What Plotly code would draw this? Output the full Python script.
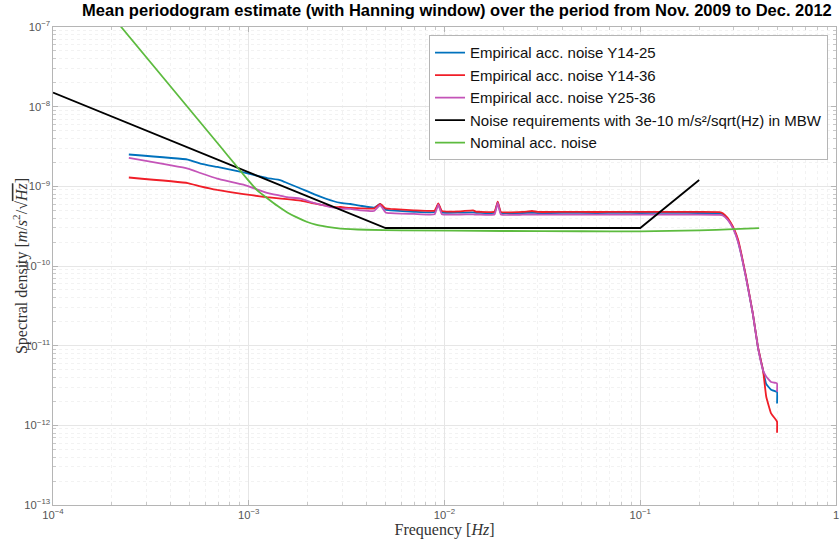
import plotly.graph_objects as go

# Frequencies shared by the three empirical curves (Hz)
freq_emp = [2.44e-4, 4.88e-4, 5.66e-4, 6.9e-4, 9.4e-4, 1.14e-3, 1.24e-3, 1.46e-3, 1.57e-3, 1.84e-3,
            2.15e-3, 2.72e-3, 2.95e-3, 3.3e-3, 3.73e-3, 4.36e-3, 4.69e-3, 5.0e-3, 5.3e-3, 7e-3,
            8.9e-3, 9.3e-3, 9.7e-3, 0.012, 0.014, 0.0145, 0.015, 0.018, 0.0187, 0.0194,
            0.025, 0.028, 0.03, 0.04, 0.06, 0.08, 0.1, 0.15, 0.2, 0.254,
            0.264, 0.28, 0.291, 0.303, 0.316, 0.328, 0.347, 0.376, 0.399, 0.424,
            0.44, 0.466, 0.495, 0.5, 0.5]

psd_y14_25 = [2.51e-9, 2.17e-9, 1.93e-9, 1.75e-9, 1.5e-9, 1.33e-9, 1.27e-9, 1.19e-9, 1.1e-9, 9.4e-10,
              8.0e-10, 6.5e-10, 6.2e-10, 6.0e-10, 5.7e-10, 5.4e-10, 6.0e-10, 5.1e-10, 5.0e-10, 4.8e-10,
              4.75e-10, 6.0e-10, 4.7e-10, 4.68e-10, 4.7e-10, 4.66e-10, 4.65e-10, 4.65e-10, 6.3e-10, 4.65e-10,
              4.63e-10, 4.66e-10, 4.62e-10, 4.64e-10, 4.63e-10, 4.65e-10, 4.63e-10, 4.64e-10, 4.63e-10, 4.6e-10,
              4.45e-10, 3.85e-10, 3.35e-10, 2.75e-10, 2.05e-10, 1.4e-10, 7.2e-11, 2.5e-11, 9.6e-12, 4.9e-12,
              3.3e-12, 2.8e-12, 2.65e-12, 2.63e-12, 1.88e-12]

psd_y14_36 = [1.29e-9, 1.1e-9, 1.0e-9, 9.0e-10, 8.0e-10, 7.5e-10, 7.3e-10, 7.0e-10, 6.9e-10, 6.6e-10,
              6.1e-10, 5.5e-10, 5.5e-10, 5.35e-10, 5.3e-10, 5.26e-10, 6.0e-10, 5.3e-10, 5.2e-10, 5.0e-10,
              4.95e-10, 6.1e-10, 4.9e-10, 4.85e-10, 5.0e-10, 4.8e-10, 4.8e-10, 4.8e-10, 6.4e-10, 4.78e-10,
              4.77e-10, 4.9e-10, 4.77e-10, 4.78e-10, 4.76e-10, 4.78e-10, 4.77e-10, 4.78e-10, 4.77e-10, 4.75e-10,
              4.6e-10, 4.0e-10, 3.45e-10, 2.85e-10, 2.15e-10, 1.45e-10, 7.4e-11, 2.55e-11, 9.7e-12, 4.9e-12,
              2.3e-12, 1.41e-12, 1.16e-12, 1.11e-12, 8.05e-13]

psd_y25_36 = [2.27e-9, 1.67e-9, 1.47e-9, 1.25e-9, 1.05e-9, 8.9e-10, 8.3e-10, 7.6e-10, 7.3e-10, 7.0e-10,
              6.2e-10, 5.4e-10, 5.26e-10, 5.2e-10, 5.0e-10, 4.9e-10, 5.8e-10, 4.7e-10, 4.6e-10, 4.5e-10,
              4.45e-10, 5.9e-10, 4.45e-10, 4.43e-10, 4.45e-10, 4.42e-10, 4.42e-10, 4.42e-10, 6.2e-10, 4.42e-10,
              4.41e-10, 4.43e-10, 4.42e-10, 4.41e-10, 4.42e-10, 4.41e-10, 4.42e-10, 4.41e-10, 4.42e-10, 4.38e-10,
              4.3e-10, 3.8e-10, 3.3e-10, 2.7e-10, 2.0e-10, 1.38e-10, 7.1e-11, 2.5e-11, 9.6e-12, 4.9e-12,
              4.1e-12, 3.5e-12, 3.4e-12, 3.36e-12, 2.63e-12]

# Noise requirement
freq_req = [1e-4, 5e-3, 0.1, 0.2]
psd_req = [1.5e-8, 3e-10, 3e-10, 1.2e-9]

# Nominal accelerometer noise
freq_nom = [2e-4, 2.23e-4, 7.3e-4, 8.4e-4, 1.0e-3, 1.105e-3, 1.243e-3, 1.4e-3, 1.574e-3,
            1.75e-3, 1.99e-3, 2.2e-3, 2.52e-3, 2.95e-3, 4e-3, 6e-3, 0.02, 0.05, 0.1,
            0.2, 0.3, 0.405]
psd_nom = [1.38e-7, 1e-7, 2.98e-9, 1.96e-9, 1.17e-9, 8.9e-10, 7.1e-10, 5.7e-10, 4.7e-10,
           4.1e-10, 3.57e-10, 3.3e-10, 3.1e-10, 2.95e-10, 2.85e-10, 2.8e-10, 2.75e-10, 2.73e-10, 2.72e-10,
           2.8e-10, 2.9e-10, 2.98e-10]

names = ["Empirical acc. noise Y14-25", "Empirical acc. noise Y14-36", "Empirical acc. noise Y25-36",
         "Noise requirements with 3e-10 m/s²/sqrt(Hz) in MBW", "Nominal acc. noise"]
colors = ["#0072BD", "#F01E28", "#C454B8", "#000000", "#5DBB3F"]
shapes = ["spline", "spline", "spline", "linear", "spline"]

series = [(freq_emp, psd_y14_25), (freq_emp, psd_y14_36), (freq_emp, psd_y25_36),
          (freq_req, psd_req), (freq_nom, psd_nom)]

fig = go.Figure()
for (fx, fy), nm, c, sh in zip(series, names, colors, shapes):
    fig.add_trace(go.Scatter(x=fx, y=fy, mode="lines", name=nm,
                             line=dict(color=c, width=1.8, shape=sh, smoothing=0.3)))

axis_common = dict(
    type="log", dtick=1, exponentformat="power", showline=True, mirror="ticks",
    linecolor="#b5b5b5", linewidth=1, ticks="inside", ticklen=5, tickcolor="#b5b5b5",
    showgrid=True, gridcolor="#e6e6e6", gridwidth=1, zeroline=False, automargin=False,
    tickfont=dict(family="Liberation Sans, Arial", size=9, color="#555555"),
    minor=dict(ticks="inside", ticklen=3, tickcolor="#c8c8c8", showgrid=True,
               gridcolor="#f2f2f2", griddash="dot"),
)

fig.update_xaxes(range=[-4, 0], **axis_common,
                 title=dict(text="Frequency [<i>Hz</i>]", standoff=2,
                            font=dict(family="Liberation Serif, Times New Roman", size=16, color="#333333")))
fig.update_yaxes(range=[-13, -7], **axis_common)

# y-axis title placed as an annotation so it sits where the reference puts it
fig.add_annotation(
    text="Spectral density [<i>m</i>/<i>s</i><sup>2</sup>/√<span style='text-decoration:overline'><i>Hz</i></span>]",
    xref="paper", yref="paper", x=-0.042, y=0.5, xanchor="center", yanchor="middle",
    textangle=-90, showarrow=False,
    font=dict(family="Liberation Serif, Times New Roman", size=16, color="#333333"),
)

fig.update_layout(
    width=840, height=543,
    margin=dict(l=53, r=4, t=27, b=38),
    paper_bgcolor="white", plot_bgcolor="white",
    title=dict(text="<b>Mean periodogram estimate (with Hanning window) over the period from Nov. 2009 to Dec. 2012</b>",
               x=0.544, xanchor="center", y=0.982, yanchor="middle",
               font=dict(family="Liberation Sans, Arial", size=16.5, color="#000000")),
    legend=dict(x=0.9898, xanchor="right", y=0.9826, yanchor="top",
                bgcolor="white", bordercolor="#b5b5b5", borderwidth=1,
                font=dict(family="Liberation Sans, Arial", size=15, color="#111111"),
                itemwidth=30, tracegroupgap=0),
    showlegend=True,
)

fig.write_html("out.html", config={"displayModeBar": False},
               post_script="document.body.style.margin='0';document.body.style.overflow='hidden';")
